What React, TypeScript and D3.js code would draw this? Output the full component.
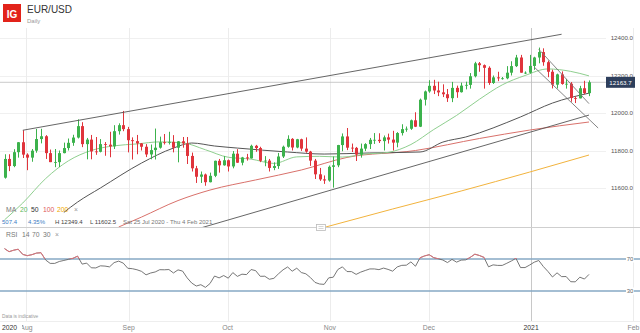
import React from "react";
import * as d3 from "d3";

type Candle = [string, number, number, number, number];

const candles: Candle[] = [
  ["2020-07-27",11655,11780,11650,11755],["2020-07-28",11755,11780,11690,11717],["2020-07-29",11717,11807,11711,11791],
  ["2020-07-30",11791,11845,11762,11844],["2020-07-31",11844,11908,11760,11778],["2020-08-03",11778,11785,11695,11762],
  ["2020-08-04",11762,11808,11740,11799],["2020-08-05",11799,11915,11788,11861],["2020-08-06",11861,11916,11838,11876],
  ["2020-08-07",11876,11882,11755,11786],["2020-08-10",11786,11805,11738,11738],["2020-08-11",11738,11808,11711,11738],
  ["2020-08-12",11738,11800,11712,11786],["2020-08-13",11786,11842,11785,11813],["2020-08-14",11813,11864,11800,11841],
  ["2020-08-17",11841,11884,11825,11869],["2020-08-18",11869,11966,11864,11930],["2020-08-19",11930,11951,11818,11834],
  ["2020-08-20",11834,11867,11753,11858],["2020-08-21",11858,11883,11753,11795],["2020-08-24",11795,11872,11777,11793],
  ["2020-08-25",11793,11861,11790,11834],["2020-08-26",11834,11845,11772,11831],["2020-08-27",11831,11900,11764,11822],
  ["2020-08-28",11822,11935,11808,11903],["2020-08-31",11903,11945,11885,11935],["2020-09-01",11935,12011,11903,11914],
  ["2020-09-02",11914,11926,11790,11855],["2020-09-03",11855,11870,11752,11850],["2020-09-04",11850,11883,11780,11838],
  ["2020-09-07",11838,11840,11800,11820],["2020-09-08",11820,11834,11765,11779],["2020-09-09",11779,11832,11753,11802],
  ["2020-09-10",11802,11917,11752,11815],["2020-09-11",11815,11874,11810,11844],["2020-09-14",11844,11888,11832,11843],
  ["2020-09-15",11843,11900,11832,11846],["2020-09-16",11846,11882,11790,11815],["2020-09-17",11815,11850,11737,11849],
  ["2020-09-18",11849,11872,11815,11838],["2020-09-21",11838,11872,11728,11771],["2020-09-22",11771,11789,11688,11705],
  ["2020-09-23",11705,11718,11627,11660],["2020-09-24",11660,11688,11627,11672],["2020-09-25",11672,11677,11612,11631],
  ["2020-09-28",11631,11682,11630,11665],["2020-09-29",11665,11746,11658,11745],["2020-09-30",11745,11755,11682,11721],
  ["2020-10-01",11721,11770,11719,11748],["2020-10-02",11748,11752,11688,11715],["2020-10-05",11715,11797,11705,11783],
  ["2020-10-06",11783,11807,11734,11735],["2020-10-07",11735,11766,11721,11763],["2020-10-08",11763,11782,11746,11758],
  ["2020-10-09",11758,11831,11757,11825],["2020-10-12",11825,11830,11793,11813],["2020-10-13",11813,11820,11738,11745],
  ["2020-10-14",11745,11770,11716,11746],["2020-10-15",11746,11755,11688,11707],["2020-10-16",11707,11737,11695,11717],
  ["2020-10-19",11717,11787,11702,11768],["2020-10-20",11768,11826,11760,11820],["2020-10-21",11820,11881,11815,11862],
  ["2020-10-22",11862,11866,11800,11816],["2020-10-23",11816,11862,11812,11860],["2020-10-26",11860,11863,11798,11810],
  ["2020-10-27",11810,11870,11788,11794],["2020-10-28",11794,11798,11718,11746],["2020-10-29",11746,11755,11648,11673],
  ["2020-10-30",11673,11707,11638,11646],["2020-11-02",11646,11667,11622,11640],["2020-11-03",11640,11720,11634,11713],
  ["2020-11-04",11713,11768,11602,11721],["2020-11-05",11721,11830,11711,11829],["2020-11-06",11829,11891,11796,11875],
  ["2020-11-09",11875,11920,11802,11815],["2020-11-10",11815,11837,11792,11814],["2020-11-11",11814,11819,11744,11778],
  ["2020-11-12",11778,11837,11762,11810],["2020-11-13",11810,11839,11797,11834],["2020-11-16",11834,11867,11808,11857],
  ["2020-11-17",11857,11893,11835,11857],["2020-11-18",11857,11892,11840,11850],["2020-11-19",11850,11880,11800,11870],
  ["2020-11-20",11870,11890,11837,11858],["2020-11-23",11858,11905,11800,11842],["2020-11-24",11842,11898,11817,11893],
  ["2020-11-25",11893,11940,11880,11914],["2020-11-26",11914,11928,11900,11916],["2020-11-27",11916,11965,11910,11961],
  ["2020-11-30",11961,12004,11925,11927],["2020-12-01",11927,12077,11925,12071],["2020-12-02",12071,12120,12040,12115],
  ["2020-12-03",12115,12175,12108,12145],["2020-12-04",12145,12177,12101,12120],["2020-12-07",12120,12167,12090,12110],
  ["2020-12-08",12110,12153,12085,12100],["2020-12-09",12100,12128,12059,12079],["2020-12-10",12079,12166,12058,12134],
  ["2020-12-11",12134,12146,12081,12111],["2020-12-14",12111,12162,12109,12146],["2020-12-15",12146,12167,12126,12150],
  ["2020-12-16",12150,12213,12130,12196],["2020-12-17",12196,12273,12190,12265],["2020-12-18",12265,12272,12220,12255],
  ["2020-12-21",12255,12259,12130,12241],["2020-12-22",12241,12249,12150,12160],["2020-12-23",12160,12200,12155,12190],
  ["2020-12-24",12190,12220,12170,12185],["2020-12-25",12185,12192,12178,12185],["2020-12-28",12185,12250,12180,12215],
  ["2020-12-29",12215,12276,12200,12250],["2020-12-30",12250,12310,12245,12296],["2020-12-31",12296,12310,12215,12215],
  ["2021-01-01",12215,12222,12208,12215],["2021-01-04",12215,12310,12210,12251],["2021-01-05",12251,12300,12230,12296],
  ["2021-01-06",12296,12349,12265,12325],["2021-01-07",12325,12345,12252,12271],["2021-01-08",12271,12280,12191,12220],
  ["2021-01-11",12220,12231,12131,12151],["2021-01-12",12151,12210,12131,12206],["2021-01-13",12206,12222,12151,12155],
  ["2021-01-14",12155,12182,12130,12156],["2021-01-15",12156,12165,12060,12080],["2021-01-18",12080,12090,12053,12078],
  ["2021-01-19",12078,12145,12078,12132],["2021-01-20",12132,12172,12100,12106],["2021-01-21",12106,12174,12090,12164],
];

const ma20: [string, number][] = [
  ["2020-07-27",11430],["2020-07-31",11520],["2020-08-07",11650],["2020-08-14",11745],["2020-08-21",11800],
  ["2020-08-28",11825],["2020-09-04",11835],["2020-09-11",11846],["2020-09-18",11841],["2020-09-25",11804],
  ["2020-10-02",11764],["2020-10-09",11754],["2020-10-16",11731],["2020-10-23",11766],["2020-10-30",11769],
  ["2020-11-06",11765],["2020-11-13",11781],["2020-11-20",11790],["2020-11-27",11832],["2020-12-04",11912],
  ["2020-12-11",11987],["2020-12-18",12073],["2020-12-25",12150],["2021-01-01",12200],["2021-01-08",12235],
  ["2021-01-15",12222],["2021-01-21",12198],
];
const ma50: [string, number][] = [
  ["2020-08-13",11470],["2020-08-18",11525],["2020-08-25",11600],["2020-09-07",11733],["2020-09-16",11813],
  ["2020-09-22",11840],["2020-09-29",11824],["2020-10-06",11813],["2020-10-21",11792],["2020-11-02",11781],
  ["2020-11-16",11787],["2020-12-01",11792],["2020-12-08",11845],["2020-12-15",11872],["2020-12-31",11979],
  ["2021-01-11",12053],["2021-01-21",12106],
];
const ma100: [string, number][] = [
  ["2020-08-31",11392],["2020-09-07",11445],["2020-09-17",11533],["2020-09-28",11589],["2020-10-12",11643],
  ["2020-10-26",11696],["2020-11-09",11763],["2020-11-30",11800],["2020-12-18",11864],["2021-01-04",11909],
  ["2021-01-21",11952],
];
const ma200: [string, number][] = [
  ["2020-10-28",11370],["2020-11-23",11488],["2020-12-14",11584],["2021-01-04",11685],["2021-01-21",11776],
];

const upperChannel: [string, number][] = [["2020-07-31", 11908], ["2021-01-13", 12420]];
const lowerChannel: [string, number][] = [["2020-09-23", 11380], ["2021-01-21", 11989]];
const fallUpper: [string, number][] = [["2021-01-06", 12340], ["2021-01-21", 12050]];
const fallLower: [string, number][] = [["2021-01-05", 12245], ["2021-01-25", 11920]];

const priceTicks = [11600, 11800, 12000, 12200, 12400];
const rsiLevels = [70, 30];
const rsiSeed = [46, 11];
const monthTicks: [string, string][] = [
  ["2020-08-01","Aug"],["2020-09-01","Sep"],["2020-10-01","Oct"],["2020-11-01","Nov"],
  ["2020-12-01","Dec"],["2021-01-01","2021"],["2021-02-01","Feb"],
];
const lastPrice = 12163.7;
const infoTexts = ["507.4", "4.35%", "H 12349.4", "L 11602.5", "Sat 25 Jul 2020 - Thu 4 Feb 2021"];

const parse = d3.timeParse("%Y-%m-%d");
const startDate = parse(candles[0][0]) as Date;
function tradingIndex(s: string): number {
  const d = parse(s) as Date;
  let n = 0;
  const cur = new Date(startDate.getTime());
  while (cur < d) {
    cur.setDate(cur.getDate() + 1);
    const wd = cur.getDay();
    if (wd !== 0 && wd !== 6) n++;
  }
  return n;
}

const FONT = "'Liberation Sans', Arial, sans-serif";
const GREEN = "#3cb24c";
const RED = "#e0343c";

export default function App() {
  const xi = d3.scaleLinear().domain([0, candles.length - 1]).range([4.5, 589]);
  const xt = d3.scaleTime().domain([parse("2020-07-24") as Date, parse("2021-02-03") as Date]).range([0, 640]);
  const y = d3.scaleLinear().domain([11600, 12400]).range([188, 38]);
  const yr = d3.scaleLinear().domain([30, 70]).range([291, 259]);

  const rsi: number[] = [];
  let ag = rsiSeed[0], al = rsiSeed[1];
  let prev = candles[0][1];
  candles.forEach((c) => {
    const ch = c[4] - prev;
    ag = (ag * 13 + Math.max(ch, 0)) / 14;
    al = (al * 13 + Math.max(-ch, 0)) / 14;
    rsi.push(100 - 100 / (1 + ag / al));
    prev = c[4];
  });

  const maLine = d3.line<[string, number]>()
    .x((d) => xi(tradingIndex(d[0])))
    .y((d) => y(d[1]))
    .curve(d3.curveMonotoneX);
  const straight = d3.line<[string, number]>()
    .x((d) => xi(tradingIndex(d[0])))
    .y((d) => y(d[1]));
  const rsiLine = d3.line<number>().x((_, i) => xi(i)).y((v) => yr(v)).curve(d3.curveLinear);

  return (
    <svg width={640} height={333} style={{ position: "absolute", left: 0, top: 0, background: "#fff" }} fontFamily={FONT}>
      <defs>
        <clipPath id="mainClip"><rect x={0} y={28} width={606} height={199} /></clipPath>
        <clipPath id="rsiClip"><rect x={0} y={228} width={606} height={92} /></clipPath>
        <clipPath id="obClip"><rect x={0} y={228} width={606} height={yr(70) - 228} /></clipPath>
      </defs>
      <rect x={0} y={0} width={640} height={333} fill="#fff" />

      {/* header */}
      <rect x={3} y={4} width={18} height={18} fill="#e2231a" />
      <text x={12} y={17.5} textAnchor="middle" fontSize={10} fontWeight="bold" fill="#fff">IG</text>
      <text x={27} y={13} fontSize={10} fill="#333">EUR/USD</text>
      <text x={27} y={23} fontSize={6} fill="#999">Daily</text>

      {/* gridlines */}
      {priceTicks.map((p) => (
        <line key={p} x1={0} x2={606} y1={Math.round(y(p)) + 0.5} y2={Math.round(y(p)) + 0.5} stroke="#f0f0f0" />
      ))}
      {monthTicks.map(([d, l]) => {
        const x = Math.round(xt(parse(d) as Date)) + 0.5;
        return <line key={d} x1={x} x2={x} y1={28} y2={321} stroke={l === "2021" ? "#c8c8c8" : "#ececec"} />;
      })}
      <line x1={0} x2={640} y1={227.5} y2={227.5} stroke="#cfcfcf" />
      <line x1={0} x2={640} y1={321.5} y2={321.5} stroke="#eeeeee" />

      <g clipPath="url(#mainClip)">
        <line x1={0} x2={606} y1={y(lastPrice)} y2={y(lastPrice)} stroke="#bdbdbd" strokeWidth={0.8} />
        <path d={maLine(ma200) || ""} fill="none" stroke="#f2b33d" strokeWidth={1} />
        <path d={maLine(ma100) || ""} fill="none" stroke="#d9716b" strokeWidth={1} />
        <path d={maLine(ma50) || ""} fill="none" stroke="#555" strokeWidth={1} />
        <path d={maLine(ma20) || ""} fill="none" stroke="#8fcf8f" strokeWidth={1} />
        {candles.map((c, i) => {
          const cx = Math.round(xi(i));
          const up = c[4] >= c[1];
          const col = up ? GREEN : RED;
          const top = y(Math.max(c[1], c[4]));
          const bot = y(Math.min(c[1], c[4]));
          return (
            <g key={c[0]}>
              <line x1={cx + 0.5} x2={cx + 0.5} y1={y(c[2])} y2={y(c[3])} stroke={col} strokeWidth={1} />
              <rect x={cx - 1} y={top} width={3} height={Math.max(bot - top, 0.8)} fill={col} />
            </g>
          );
        })}
        <path d={straight(upperChannel) || ""} stroke="#555" strokeWidth={0.9} fill="none" />
        <path d={straight(lowerChannel) || ""} stroke="#555" strokeWidth={0.9} fill="none" />
        <path d={straight(fallUpper) || ""} stroke="#777" strokeWidth={0.9} fill="none" />
        <path d={straight(fallLower) || ""} stroke="#777" strokeWidth={0.9} fill="none" />
      </g>

      {/* price axis */}
      {priceTicks.map((p) => (
        <text key={p} x={633} y={y(p) + 2.2} textAnchor="end" fontSize={6.2} fill="#555">{p.toFixed(1)}</text>
      ))}
      <rect x={606} y={y(lastPrice) - 5.5} width={29} height={11} fill="#2e3f5c" />
      <text x={620.5} y={y(lastPrice) + 2.2} textAnchor="middle" fontSize={6.2} fill="#fff">{lastPrice.toFixed(1)}</text>

      {/* legend */}
      <g fontSize={6.8}>
        <text x={6} y={211.5} fill="#777">MA</text>
        <text x={20} y={211.5} fill="#5cb85c">20</text>
        <text x={31} y={211.5} fill="#333">50</text>
        <text x={43} y={211.5} fill="#e05a5a">100</text>
        <text x={57} y={211.5} fill="#f0a800">200</text>
        <text x={74} y={211.5} fill="#999">×</text>
      </g>
      <g fontSize={6}>
        <text x={2} y={224} fill="#3b7dc4">{infoTexts[0]}</text>
        <text x={28} y={224} fill="#3b7dc4">{infoTexts[1]}</text>
        <text x={55} y={224} fill="#444">{infoTexts[2]}</text>
        <text x={90} y={224} fill="#444">{infoTexts[3]}</text>
        <text x={123} y={224} fill="#777">{infoTexts[4]}</text>
      </g>
      <rect x={316.5} y={224.5} width={9} height={6} fill="#fff" stroke="#bbb" strokeWidth={0.8} />
      <line x1={318.5} x2={323.5} y1={226.5} y2={226.5} stroke="#bbb" strokeWidth={0.6} />
      <line x1={318.5} x2={323.5} y1={228.5} y2={228.5} stroke="#bbb" strokeWidth={0.6} />

      <g fontSize={6.8} fill="#777">
        <text x={6} y={236.5}>RSI</text>
        <text x={22} y={236.5}>14</text>
        <text x={32} y={236.5}>70</text>
        <text x={43} y={236.5}>30</text>
        <text x={55} y={236.5} fill="#999">×</text>
      </g>

      {/* RSI panel */}
      {rsiLevels.map((v) => (
        <g key={v}>
          <line x1={0} x2={640} y1={yr(v)} y2={yr(v)} stroke="#86a9c4" strokeWidth={1.3} />
          <rect x={626} y={yr(v) - 3.5} width={8} height={7} fill="#fff" />
          <text x={630} y={yr(v) + 2.2} textAnchor="middle" fontSize={6} fill="#666">{v}</text>
        </g>
      ))}
      <g clipPath="url(#rsiClip)">
        <path d={rsiLine(rsi) || ""} fill="none" stroke="#666" strokeWidth={0.9} />
      </g>
      <g clipPath="url(#obClip)">
        <path d={rsiLine(rsi) || ""} fill="none" stroke="#e8707a" strokeWidth={0.9} />
      </g>

      {/* x axis */}
      <text x={2} y={318} fontSize={4.8} fill="#999">Data is indicative</text>
      {monthTicks.map(([d, l]) => (
        <text key={d} x={xt(parse(d) as Date)} y={330} textAnchor="middle" fontSize={6.8}
          fill={l === "2021" ? "#333" : "#888"}>{l}</text>
      ))}
      <rect x={0} y={322} width={22} height={11} fill="#fff" />
      <text x={2} y={330} fontSize={6.8} fill="#333">2020</text>
    </svg>
  );
}
